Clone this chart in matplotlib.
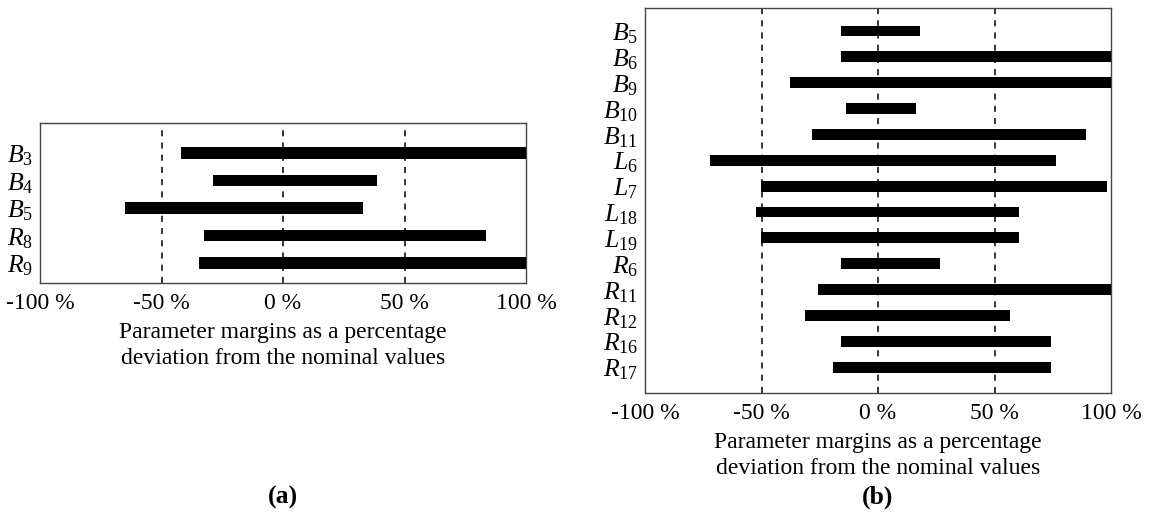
import numpy as np
import matplotlib
matplotlib.use('Agg')
import matplotlib.pyplot as plt

plt.rcParams['font.family'] = ['Liberation Serif', 'DejaVu Serif']
plt.rcParams['mathtext.fontset'] = 'custom'
plt.rcParams['mathtext.rm'] = 'Liberation Serif'
plt.rcParams['mathtext.it'] = 'Liberation Serif:italic'
plt.rcParams['mathtext.bf'] = 'Liberation Serif:bold'

# panel (a)
names_a = ['B_3', 'B_4', 'B_5', 'R_8', 'R_9']
low_a = [-42, -29, -65, -32.5, -34.5]
high_a = [100, 38.7, 33, 83.5, 100]

# panel (b)
names_b = ['B_5', 'B_6', 'B_9', 'B_{10}', 'B_{11}', 'L_6', 'L_7', 'L_{18}',
           'L_{19}', 'R_6', 'R_{11}', 'R_{12}', 'R_{16}', 'R_{17}']
low_b = [-16.1, -16.1, -37.7, -13.9, -28.3, -72.1, -50.2, -52.3,
         -50.2, -16.0, -25.8, -31.5, -16.1, -19.4]
high_b = [17.8, 100, 100, 16.4, 89.4, 76.4, 98.3, 60.3,
          60.6, 26.4, 100, 56.7, 74.2, 74.2]

xticks = [-100, -50, 0, 50, 100]
xticklabels = ['-100 %', '-50 %', '0 %', '50 %', '100 %']
xlabel = 'Parameter margins as a percentage\ndeviation from the nominal values'

fig = plt.figure(figsize=(11.51, 5.19), dpi=100)
ax1 = fig.add_axes([0.0348, 0.4547, 0.4222, 0.3083])
ax2 = fig.add_axes([0.5604, 0.2428, 0.4049, 0.7418])


def draw(ax, names, low, high, ylim):
    pos = np.arange(1, len(names) + 1)
    widths = np.array(high) - np.array(low)
    ax.barh(pos, widths, left=low, height=0.42, color='black', zorder=3)
    for v in [-50, 0, 50]:
        ax.axvline(v, color='black', ls=(0, (4, 4)), lw=1.1, zorder=1)
    ax.set_xlim(-100, 100)
    ax.set_ylim(*ylim)
    ax.set_yticks(pos)
    ax.set_yticklabels(['$' + n + '$' for n in names], fontsize=18.5)
    ax.set_xticks(xticks)
    ax.set_xticklabels(xticklabels, fontsize=17)
    ax.tick_params(axis='x', length=0, pad=7)
    ax.tick_params(axis='y', length=0, pad=5)
    for s in ax.spines.values():
        s.set_color('#444444')
        s.set_linewidth(1.0)
    ax.set_xlabel(xlabel, fontsize=17, linespacing=1.28, labelpad=6)
    return ax


draw(ax1, names_a, low_a, high_a, (5.73, -0.09))
draw(ax2, names_b, low_b, high_b, (15.0, 0.11))

fig.text(283 / 1151, 1 - 497 / 519, '(a)', fontsize=18.5, fontweight='bold',
         ha='center', va='center')
fig.text(878 / 1151, 1 - 497 / 519, '(b)', fontsize=18.5, fontweight='bold',
         ha='center', va='center')

plt.savefig('out.png', dpi=100)
